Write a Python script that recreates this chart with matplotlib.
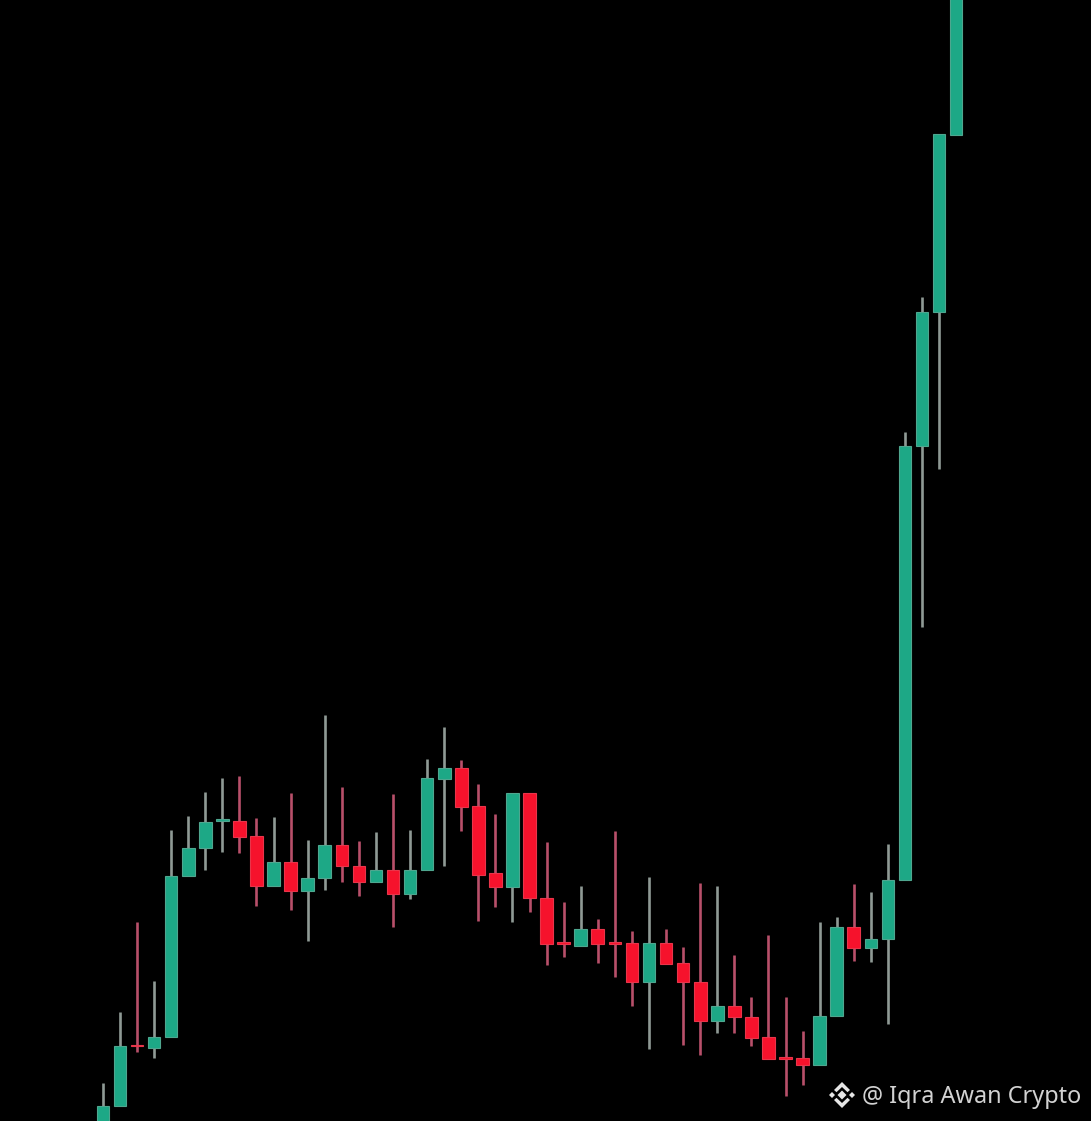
import matplotlib
matplotlib.use("Agg")
import matplotlib.pyplot as plt
from matplotlib.patches import Polygon

# Candle values; the price scale runs downward like the picture's rows.
highs = [1084,1013,923,982,831,817,793,779,777,819,818,794,841,716,788,842,833,795,831,760,
         728,761,785,815,794,794,843,903,887,920,832,932,878,930,948,884,887,956,998,936,
         998,1032,923,918,885,893,845,433,298,313,-20]
lows = [1130,1107,1053,1059,1038,877,871,853,854,907,887,911,942,891,883,897,883,928,900,871,
        867,832,922,908,923,913,966,958,947,964,978,1007,1050,965,1046,1056,1034,1034,1047,1060,
        1097,1086,1066,1017,962,963,1025,881,628,470,136]
opens = [1130,1107,1046,1049,1038,877,849,822,822,837,887,863,892,879,846,867,883,871,895,871,
         780,769,807,874,888,794,899,943,947,930,943,944,983,944,964,983,1022,1007,1018,1038,
         1058,1059,1066,1017,928,949,940,881,447,313,136]
closes = [1107,1047,1047,1038,877,849,823,820,838,887,863,892,879,846,867,883,871,895,871,779,
          769,808,876,888,794,899,945,945,930,945,945,983,944,965,983,1022,1007,1018,1039,1060,
          1060,1066,1017,928,949,940,881,447,313,135,-20]

watermark = "@ Iqra Awan Crypto"

GREEN, GREEN_WICK = "#1DA886", "#8F9A95"
RED, RED_WICK = "#F6122C", "#B8506A"
GREEN_EDGE, RED_EDGE = "#4FA68F", "#E8354A"

fig = plt.figure(figsize=(10.91, 11.21), dpi=100, facecolor="black")
ax = fig.add_axes([0, 0, 1, 1], facecolor="black")
ax.set_xlim(-6.03, 57.9)
ax.set_ylim(1121.7, 0.7)
ax.axis("off")

xs = list(range(len(opens)))
bull = [c < o for o, c in zip(opens, closes)]
ax.vlines(xs, highs, lows,
          colors=[GREEN_WICK if b else RED_WICK for b in bull], linewidth=1.9, zorder=1)
ax.bar(xs, [abs(o - c) for o, c in zip(opens, closes)], width=0.74,
       bottom=[min(o, c) for o, c in zip(opens, closes)],
       color=[GREEN if b else RED for b in bull],
       edgecolor=[GREEN_EDGE if b else RED_EDGE for b in bull], linewidth=0.8, zorder=2)

# Watermark on an overlay in picture pixels
ov = fig.add_axes([0, 0, 1, 1], facecolor="none")
ov.set_xlim(0, 1091)
ov.set_ylim(1121, 0)
ov.axis("off")
ov.text(862, 1097, watermark, color="#D2D2D2", fontsize=16.9, family="Noto Sans",
        ha="left", va="center")

cx, cy = 842, 1095
W = "#E6E6E6"
shapes = [
    [(cx, cy - 4.5), (cx + 4.5, cy), (cx, cy + 4.5), (cx - 4.5, cy)],
    [(cx - 13, cy), (cx - 10, cy - 3), (cx - 7, cy), (cx - 10, cy + 3)],
    [(cx + 13, cy), (cx + 10, cy - 3), (cx + 7, cy), (cx + 10, cy + 3)],
    [(cx, cy - 13), (cx + 8, cy - 5), (cx + 5.5, cy - 2.8), (cx, cy - 8), (cx - 5.5, cy - 2.8), (cx - 8, cy - 5)],
    [(cx, cy + 13), (cx + 8, cy + 5), (cx + 5.5, cy + 2.8), (cx, cy + 8), (cx - 5.5, cy + 2.8), (cx - 8, cy + 5)],
]
for pts in shapes:
    ov.add_patch(Polygon(pts, closed=True, facecolor=W, edgecolor="none"))

fig.savefig("out.png", dpi=100, facecolor="black")
